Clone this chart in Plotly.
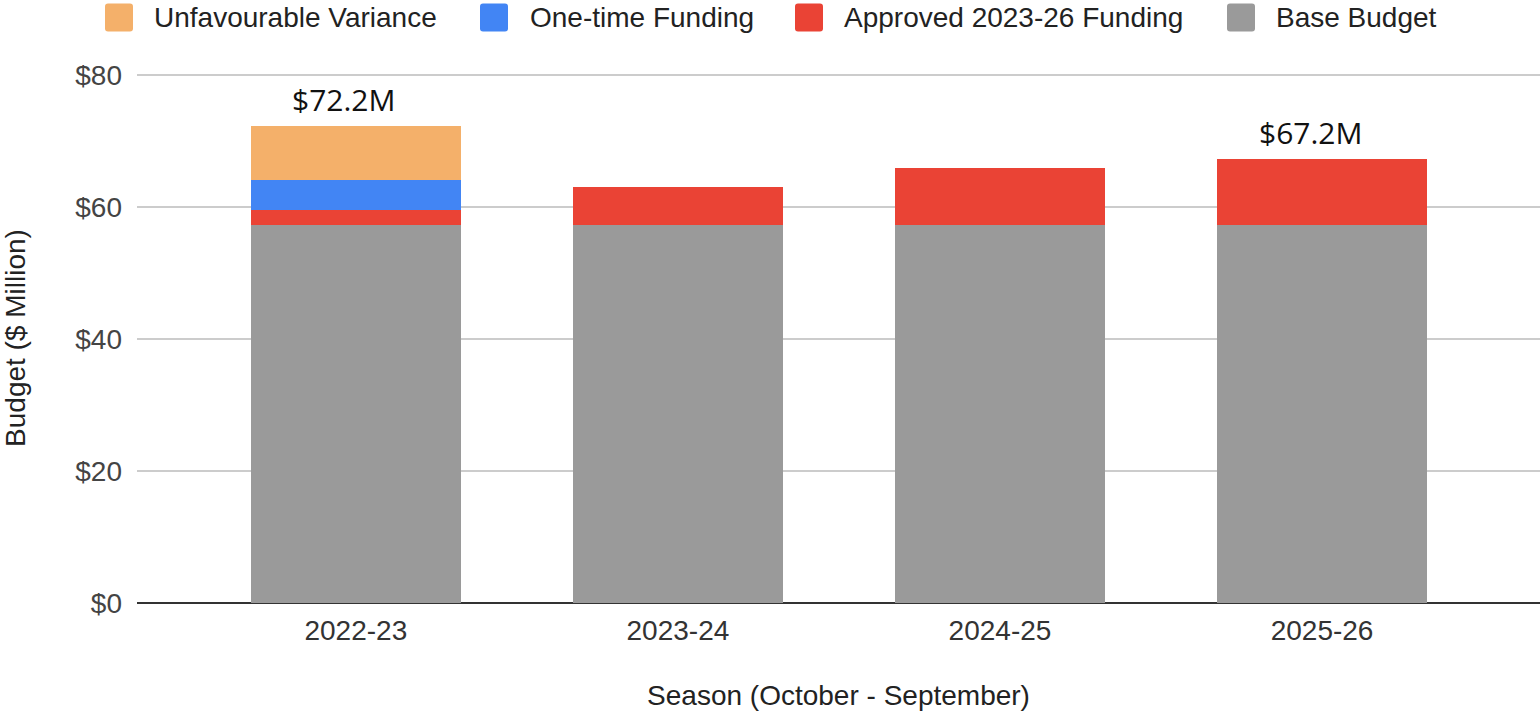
import plotly.graph_objects as go

seasons = ["2022-23", "2023-24", "2024-25", "2025-26"]
base_budget = [57.3, 57.3, 57.3, 57.3]
approved_funding = [2.2, 5.8, 8.6, 9.9]
one_time_funding = [4.6, 0, 0, 0]
unfavourable_variance = [8.1, 0, 0, 0]
total_labels = ["$72.2M", None, None, "$67.2M"]
totals = [72.2, 63.1, 65.9, 67.2]
legend_order = ["Unfavourable Variance", "One-time Funding", "Approved 2023-26 Funding", "Base Budget"]

colors = {
    "Base Budget": "#9a9a9a",
    "Approved 2023-26 Funding": "#ea4335",
    "One-time Funding": "#4285f4",
    "Unfavourable Variance": "#f4b06a",
}

fig = go.Figure()
series = [
    ("Base Budget", base_budget),
    ("Approved 2023-26 Funding", approved_funding),
    ("One-time Funding", one_time_funding),
    ("Unfavourable Variance", unfavourable_variance),
]
for name, vals in series:
    fig.add_trace(go.Bar(x=seasons, y=vals, name=name, marker_color=colors[name],
                         marker_line_width=0, width=0.65, showlegend=False))

for s, t, lab in zip(seasons, totals, total_labels):
    if lab:
        fig.add_annotation(x=s, y=t, text=lab, showarrow=False, yanchor="middle", yshift=27, xshift=-12,
                           font=dict(family="Open Sans", size=30, color="#111111"))

# ---- geometry (page pixels; body margin removed via post_script) ----
W, H = 1540, 717
PLOT_LEFT, PLOT_RIGHT = 137, 1540
PLOT_TOP, PLOT_BOTTOM = 73, 603


def px_x(px):
    return (px - PLOT_LEFT) / (PLOT_RIGHT - PLOT_LEFT)


def px_y(py):
    return (PLOT_BOTTOM - py) / (PLOT_BOTTOM - PLOT_TOP)


# custom legend (large rounded swatches like the reference)
swatch_left = [105, 480, 795, 1227]
text_left = [153, 529, 843, 1275]
SW = 28
SW_TOP, SW_BOTTOM, TEXT_MID = 3.5, 31.5, 18
rx = 3 / (PLOT_RIGHT - PLOT_LEFT)
ry = 3 / (PLOT_BOTTOM - PLOT_TOP)
for name, sl, tl in zip(legend_order, swatch_left, text_left):
    x0, x1 = px_x(sl), px_x(sl + SW)
    y0, y1 = px_y(SW_BOTTOM), px_y(SW_TOP)
    path = (f"M {x0+rx},{y0} L {x1-rx},{y0} Q {x1},{y0} {x1},{y0+ry} L {x1},{y1-ry} Q {x1},{y1} {x1-rx},{y1} "
            f"L {x0+rx},{y1} Q {x0},{y1} {x0},{y1-ry} L {x0},{y0+ry} Q {x0},{y0} {x0+rx},{y0} Z")
    fig.add_shape(type="path", xref="paper", yref="paper", path=path,
                  fillcolor=colors[name], line_width=0, layer="above")
    fig.add_annotation(xref="paper", yref="paper", x=px_x(tl), y=px_y(TEXT_MID), text=name,
                       showarrow=False, xanchor="left", yanchor="middle", borderpad=0,
                       font=dict(family="Liberation Sans, Arial", size=28, color="#222222"))

fig.update_layout(
    barmode="stack",
    width=W, height=H,
    margin=dict(l=PLOT_LEFT, r=W - PLOT_RIGHT, t=PLOT_TOP, b=H - PLOT_BOTTOM),
    plot_bgcolor="white", paper_bgcolor="white",
    showlegend=False,
    font=dict(family="Liberation Sans, Arial", size=28, color="#333333"),
    xaxis=dict(range=[-0.6795, 3.6767], showgrid=False, ticks="", automargin=False,
               tickfont=dict(size=28, color="#333333"), ticklabelstandoff=8,
               title=dict(text="Season (October - September)", font=dict(size=28, color="#222222"), standoff=40)),
    yaxis=dict(range=[0, 80.3], tickvals=[0, 20, 40, 60, 80], ticktext=["$0", "$20", "$40", "$60", "$80"],
               showgrid=True, gridcolor="#cccccc", gridwidth=2, zeroline=True, zerolinecolor="#333333",
               zerolinewidth=2, tickfont=dict(size=28, color="#444444"), ticklabelstandoff=14, automargin=False,
               title=dict(text="Budget ($ Million)", font=dict(size=28, color="#222222"), standoff=47)),
)

fig.write_html("out.html", config={"displayModeBar": False},
               post_script="document.body.style.margin='0';document.body.style.overflow='hidden';")
